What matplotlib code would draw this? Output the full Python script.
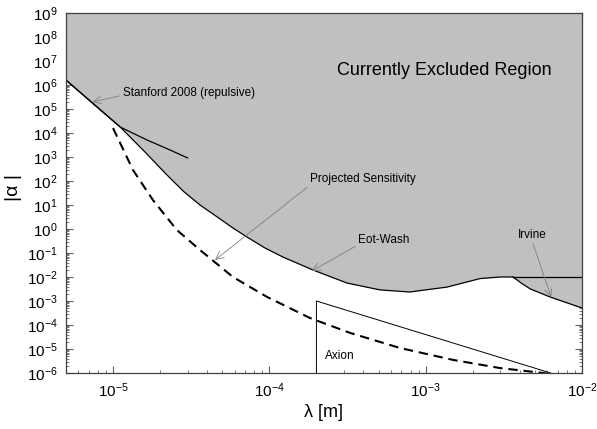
import matplotlib
matplotlib.use("Agg")
import matplotlib.pyplot as plt
from matplotlib.ticker import LogLocator, FixedLocator, NullFormatter

plt.rcParams['font.family'] = ['Liberation Sans', 'DejaVu Sans']
plt.rcParams['mathtext.fontset'] = 'custom'
plt.rcParams['mathtext.rm'] = 'Liberation Sans'
plt.rcParams['mathtext.it'] = 'Liberation Sans:italic'
plt.rcParams['mathtext.bf'] = 'Liberation Sans:bold'

# ---- data ----
lam_limit = [5.0e-6, 1.11e-5, 1.6e-5, 2.15e-5, 2.81e-5, 3.6e-5, 4.36e-5, 5.85e-5,
             7.2e-5, 9.4e-5, 1.22e-4, 1.9e-4, 3.14e-4, 5.1e-4, 7.9e-4, 1.37e-3,
             2.23e-3, 3.0e-3, 3.62e-3]
alpha_limit = [1.6e6, 1.78e4, 1.62e3, 215, 38, 10, 4.2, 1.1,
               0.46, 0.16, 0.068, 0.0196, 5.6e-3, 2.9e-3, 2.37e-3, 3.8e-3,
               8.6e-3, 1.0e-2, 1.0e-2]

lam_eotwash_flat = [3.62e-3, 1.0e-2]
alpha_eotwash_flat = [1.0e-2, 1.0e-2]

lam_irvine = [3.62e-3, 4.1e-3, 4.66e-3, 6.25e-3, 1.0e-2]
alpha_irvine = [1.0e-2, 5.5e-3, 3.2e-3, 1.47e-3, 5.1e-4]

lam_stanford = [5.0e-6, 1.11e-5, 1.65e-5, 2.3e-5, 3.0e-5]
alpha_stanford = [1.6e6, 1.78e4, 5.1e3, 2.0e3, 9.1e2]

lam_proj = [1.0e-5, 1.34e-5, 1.8e-5, 2.56e-5, 3.6e-5, 5.85e-5, 9.66e-5, 1.82e-4,
            3.28e-4, 6.85e-4, 1.5e-3, 3.0e-3, 5.64e-3, 6.2e-3]
alpha_proj = [1.6e4, 290, 16, 0.91, 0.133, 0.01, 1.48e-3, 1.95e-4,
              4.7e-5, 1.1e-5, 3.5e-6, 1.6e-6, 1.0e-6, 9.0e-7]

lam_axion = [2.0e-4, 2.0e-4, 6.3e-3]
alpha_axion = [1.0e-6, 1.0e-3, 1.0e-6]

x_range = [5.0e-6, 1.0e-2]
y_range = [1.0e-6, 1.0e9]
x_tick_exps = [-5, -4, -3, -2]
y_tick_exps = list(range(-6, 10))

# ---- figure ----
fig = plt.figure(figsize=(5.97, 4.29), dpi=100)
ax = fig.add_axes([66/597, 1-373/429, (582-66)/597, (373-13)/429])
ax.set_xscale('log')
ax.set_yscale('log')
ax.set_xlim(*x_range)
ax.set_ylim(*y_range)
ax.set_axisbelow(True)

# excluded region fill
fill_x = lam_limit + lam_irvine[1:] + [x_range[1], x_range[0]]
fill_y = alpha_limit + alpha_irvine[1:] + [y_range[1], y_range[1]]
ax.fill(fill_x, fill_y, color='#c0c0c0', lw=0, zorder=1)

ax.plot(lam_limit, alpha_limit, color='black', lw=0.9, zorder=3)
ax.plot(lam_eotwash_flat, alpha_eotwash_flat, color='black', lw=0.9, zorder=3)
ax.plot(lam_irvine, alpha_irvine, color='black', lw=0.9, zorder=3)
ax.plot(lam_stanford, alpha_stanford, color='black', lw=0.9, zorder=3)
ax.plot(lam_axion, alpha_axion, color='black', lw=0.7, zorder=3)
ax.plot(lam_proj, alpha_proj, color='black', lw=1.5, dashes=(4.5, 2.8), zorder=3)

# labels
ax.text(2.71e-4, 10**6.62, 'Currently Excluded Region', fontsize=13, va='center', ha='left')
ax.text(2.27e-4, 10**-5.29, 'Axion', fontsize=8.5, va='center', ha='left')

arrowprops = dict(arrowstyle='->', color='#808080', lw=0.6, shrinkA=0, shrinkB=0,
                  mutation_scale=14)
ax.annotate('Stanford 2008 (repulsive)', xy=(7.4e-6, 10**5.3), xytext=(1.15e-5, 10**5.67),
            fontsize=8.5, va='center', ha='left', arrowprops=dict(arrowprops, relpos=(0, 0.3)))
ax.annotate('Projected Sensitivity', xy=(4.49e-5, 10**-1.29), xytext=(1.82e-4, 10**2.08),
            fontsize=8.5, va='center', ha='left', arrowprops=dict(arrowprops, relpos=(0, 0.0)))
ax.annotate('Eot-Wash', xy=(1.87e-4, 10**-1.75), xytext=(3.69e-4, 10**-0.46),
            fontsize=8.5, va='center', ha='left', arrowprops=dict(arrowprops, relpos=(0, 0.1)))
ax.annotate('Irvine', xy=(6.34e-3, 10**-2.83), xytext=(4.8e-3, 10**-0.25),
            fontsize=8.5, va='center', ha='center', arrowprops=dict(arrowprops, relpos=(0.5, 0.0)))

# ticks
ax.xaxis.set_major_locator(FixedLocator([10.0**e for e in x_tick_exps]))
ax.set_xticklabels([r'$\mathregular{10^{%d}}$' % e for e in x_tick_exps])
ax.xaxis.set_minor_locator(LogLocator(base=10, subs=range(2, 10), numticks=20))
ax.xaxis.set_minor_formatter(NullFormatter())
ax.yaxis.set_major_locator(FixedLocator([10.0**e for e in y_tick_exps]))
ax.set_yticklabels([r'$\mathregular{10^{%d}}$' % e for e in y_tick_exps])
ax.yaxis.set_minor_locator(LogLocator(base=10, subs=range(2, 10), numticks=30))
ax.yaxis.set_minor_formatter(NullFormatter())

ax.tick_params(which='both', direction='in', top=True, right=True, color='#606060')
ax.tick_params(which='major', length=5, width=0.8, labelsize=11, pad=6)
ax.tick_params(which='minor', length=2.5, width=0.6)
for s in ax.spines.values():
    s.set_color('#404040')
    s.set_linewidth(0.9)
    s.set_zorder(4)

ax.set_xlabel('λ [m]', fontsize=13, labelpad=3)
ax.set_ylabel('|α |', fontsize=14)
ax.yaxis.set_label_coords(-0.085, 0.514)

fig.savefig('out.png', dpi=100)
